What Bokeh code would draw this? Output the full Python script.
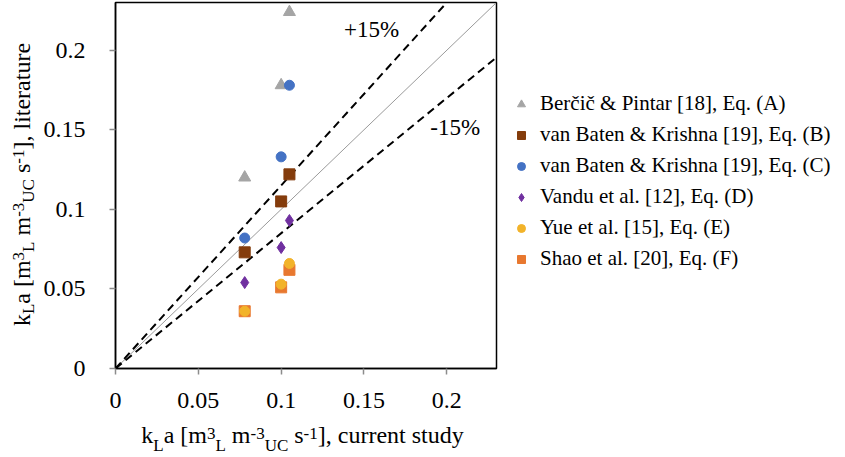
import math
from bokeh.plotting import figure
from bokeh.models import Label, Legend, LegendItem, FixedTicker, Range1d, LinearAxis
from bokeh.embed import file_html
from bokeh.resources import INLINE

# ---------------- data ----------------
x_study = [0.078, 0.100, 0.105]
berc_A = [0.120, 0.178, 0.224]
vbk_B = [0.073, 0.105, 0.122]
vbk_C = [0.082, 0.133, 0.178]
vandu_D = [0.054, 0.076, 0.093]
yue_E = [0.036, 0.053, 0.066]
shao_F = [0.036, 0.051, 0.062]

series_labels = [
    "Berčič & Pintar [18], Eq. (A)",
    "van Baten & Krishna [19], Eq. (B)",
    "van Baten & Krishna [19], Eq. (C)",
    "Vandu et al. [12], Eq. (D)",
    "Yue et al. [15], Eq. (E)",
    "Shao et al. [20], Eq. (F)",
]

tick_values = [0, 0.05, 0.1, 0.15, 0.2]
tick_labels = ["0", "0.05", "0.1", "0.15", "0.2"]
axis_max = 0.23
ref_slopes = [1.0, 1.15, 0.85]
band_labels = ["+15%", "-15%"]

FONT = "Liberation Serif"

# ---------------- layout constants (pixels) ----------------
FL, FW, FT, FH = 115, 381, 2, 366
FB = FT + FH

p = figure(
    frame_width=FW, frame_height=FH,
    min_border_left=FL, min_border_right=341, min_border_top=FT, min_border_bottom=0,
    x_range=Range1d(0, axis_max), y_range=Range1d(0, axis_max),
    output_backend="svg", toolbar_location=None,
)
p.grid.visible = False
p.outline_line_color = "black"
p.outline_line_width = 1.5
p.background_fill_color = "white"
p.border_fill_color = "white"

for ax in (p.xaxis[0], p.yaxis[0]):
    ax.ticker = FixedTicker(ticks=tick_values, minor_ticks=[])
    ax.major_label_overrides = {v: l for v, l in zip(tick_values, tick_labels)}
    ax.major_label_text_font = FONT
    ax.major_label_text_font_size = "24px"
    ax.major_label_text_color = "black"
    ax.axis_line_color = "black"
    ax.axis_line_width = 1.5
    ax.major_tick_line_color = "#8c8c8c"
    ax.major_tick_line_width = 1.5
    ax.major_tick_out = 6
    ax.major_tick_in = 0
    ax.minor_tick_line_color = None
    ax.minor_tick_out = 0
    ax.axis_label = None
p.xaxis.major_label_standoff = 18
p.yaxis.major_label_standoff = 24

# reference lines (1:1 and +/-15 %)
line_x = [0, axis_max]
p.line(line_x, [ref_slopes[0] * v for v in line_x], line_color="#9a9a9a", line_width=1)
p.line(line_x, [ref_slopes[1] * v for v in line_x], line_color="black", line_width=2, line_dash="8 5")
p.line(line_x, [ref_slopes[2] * v for v in line_x], line_color="black", line_width=2, line_dash="8 5")

rA = p.scatter(x_study, berc_A, marker="triangle", size=12, color="#A5A5A5")
rB = p.scatter(x_study, vbk_B, marker="square", size=11, color="#843C0C")
rC = p.scatter(x_study, vbk_C, marker="circle", size=10, color="#4472C4")
rD = p.scatter(x_study, vandu_D, marker="diamond", size=12, color="#7030A0")
rF = p.scatter(x_study, shao_F, marker="square", size=11, color="#E8782F")
rE = p.scatter(x_study, yue_E, marker="circle", size=10, color="#F2B32A")

legend = Legend(
    items=[LegendItem(label=l, renderers=[r]) for l, r in zip(series_labels, [rA, rB, rC, rD, rE, rF])],
    location=(15, 97),
    label_text_font=FONT, label_text_font_size="21px", label_text_color="black",
    border_line_color=None, background_fill_alpha=0,
    margin=0, padding=0, spacing=6, glyph_width=20, glyph_height=24, label_height=24,
    label_standoff=9,
)
p.add_layout(legend, "right")

# band annotations
p.add_layout(Label(x=0.138, y=0.2132, text=band_labels[0], text_font=FONT, text_color="black",
                   text_font_size="23px", text_baseline="alphabetic"))
p.add_layout(Label(x=0.190, y=0.1515, text=band_labels[1], text_font=FONT, text_color="black",
                   text_font_size="23px", text_baseline="alphabetic"))

# ---- axis titles with sub/superscripts: one text axis per vertical level ----
W = {' ': 250, ',': 250, '-': 333, '.': 250, '[': 333, ']': 333, 'C': 667, 'L': 611, 'U': 722,
     'a': 444, 'c': 444, 'd': 500, 'e': 444, 'i': 278, 'k': 500, 'l': 278, 'm': 778, 'n': 500,
     'r': 333, 's': 389, 't': 278, 'u': 500, 'y': 500}
for d in "0123456789":
    W[d] = 500


def tw(s, size):
    return sum(W.get(c, 500) for c in s) * size / 1000.0


MAIN, SMALL = 24, 17


def title_pieces(tail):
    return [("k", "m"), ("L", "sub"), ("a [m", "m"), ("3", "sup"), ("L", "sub"), (" m", "m"),
            ("-3", "sup"), ("UC", "sub"), (" s", "m"), ("-1", "sup"), (tail, "m")]


def piece_centres(pieces):
    total = sum(tw(t, MAIN if k == "m" else SMALL) for t, k in pieces)
    pos = -total / 2
    out = {"m": [], "sup": [], "sub": []}
    for t, k in pieces:
        size = MAIN if k == "m" else SMALL
        s = t.strip(" ")
        lead = tw(t[: len(t) - len(t.lstrip(" "))], size)
        out[k].append((s, pos + lead + tw(s, size) / 2))
        pos += tw(t, size)
    return out


def xd(px):
    return (px - FL) * axis_max / FW


def yd(py):
    return (FB - py) * axis_max / FH


def text_axis(entries, to_data, size, standoff):
    ticks = [round(to_data(c), 7) for _, c in entries]
    ax = LinearAxis(ticker=FixedTicker(ticks=ticks, minor_ticks=[]))
    ax.major_label_overrides = {t: s for t, (s, _) in zip(ticks, entries)}
    ax.major_label_text_font = FONT
    ax.major_label_text_font_size = f"{size}px"
    ax.major_label_text_color = "black"
    ax.major_label_standoff = standoff
    ax.major_label_orientation = "parallel"
    ax.axis_line_color = None
    ax.major_tick_line_color = None
    ax.minor_tick_line_color = None
    ax.major_tick_out = 0
    ax.major_tick_in = 0
    ax.minor_tick_out = 0
    ax.minor_tick_in = 0
    ax.axis_label = None
    return ax


X_CENTRE = 302
Y_CENTRE = 184
xc = piece_centres(title_pieces("], current study"))
yc = piece_centres(title_pieces("], literature"))


def shift_x(entries):
    return [(s, X_CENTRE + c) for s, c in entries]


def shift_y(entries):
    return [(s, Y_CENTRE - c) for s, c in entries]


# below: x axis, then superscripts, main text, subscripts
p.add_layout(text_axis(shift_x(xc["sup"]), xd, SMALL, 17), "below")
p.add_layout(text_axis(shift_x(xc["m"]), xd, MAIN, -20), "below")
p.add_layout(text_axis(shift_x(xc["sub"]), xd, SMALL, -15), "below")

# left: y axis, then subscripts (nearest), main text, superscripts
p.add_layout(text_axis(shift_y(yc["sub"]), yd, SMALL, 2), "left")
p.add_layout(text_axis(shift_y(yc["m"]), yd, MAIN, -19), "left")
p.add_layout(text_axis(shift_y(yc["sup"]), yd, SMALL, -18), "left")

open("out.html", "w").write(file_html(p, INLINE))
